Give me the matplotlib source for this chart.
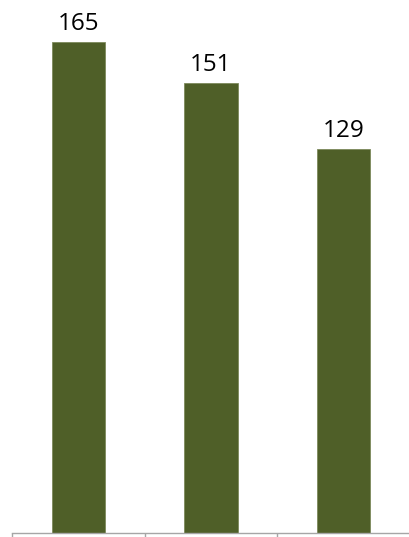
import numpy as np
import matplotlib
matplotlib.use('Agg')
import matplotlib.pyplot as plt

categories = ['A', 'B', 'C']
values = [165, 151, 129]

fig = plt.figure(figsize=(4.1, 5.37), dpi=100)
ax = fig.add_axes([12/410, 4/537, 398/410, 533/537])

pos = np.arange(len(categories))
bars = ax.bar(pos, values, width=0.4, color='#4f5f28', edgecolor='#7d8a5c', linewidth=0.6)

for x, v in zip(pos, values):
  ax.text(x, v + 4, str(v), ha='center', va='baseline', fontsize=17.5,
          family='Open Sans', color='#000000')

ax.set_xlim(-0.5, 2.5)
ax.set_ylim(0, 179)

for side in ['top', 'right', 'left']:
  ax.spines[side].set_visible(False)
ax.spines['bottom'].set_color('#a6a6a6')
ax.spines['bottom'].set_linewidth(1.0)

ax.set_yticks([])
ax.set_xticks([-0.5, 0.5, 1.5, 2.5])
ax.set_xticklabels([])
ax.tick_params(axis='x', direction='out', length=4, width=1.0, color='#a6a6a6')

fig.savefig('out.png', dpi=100)
